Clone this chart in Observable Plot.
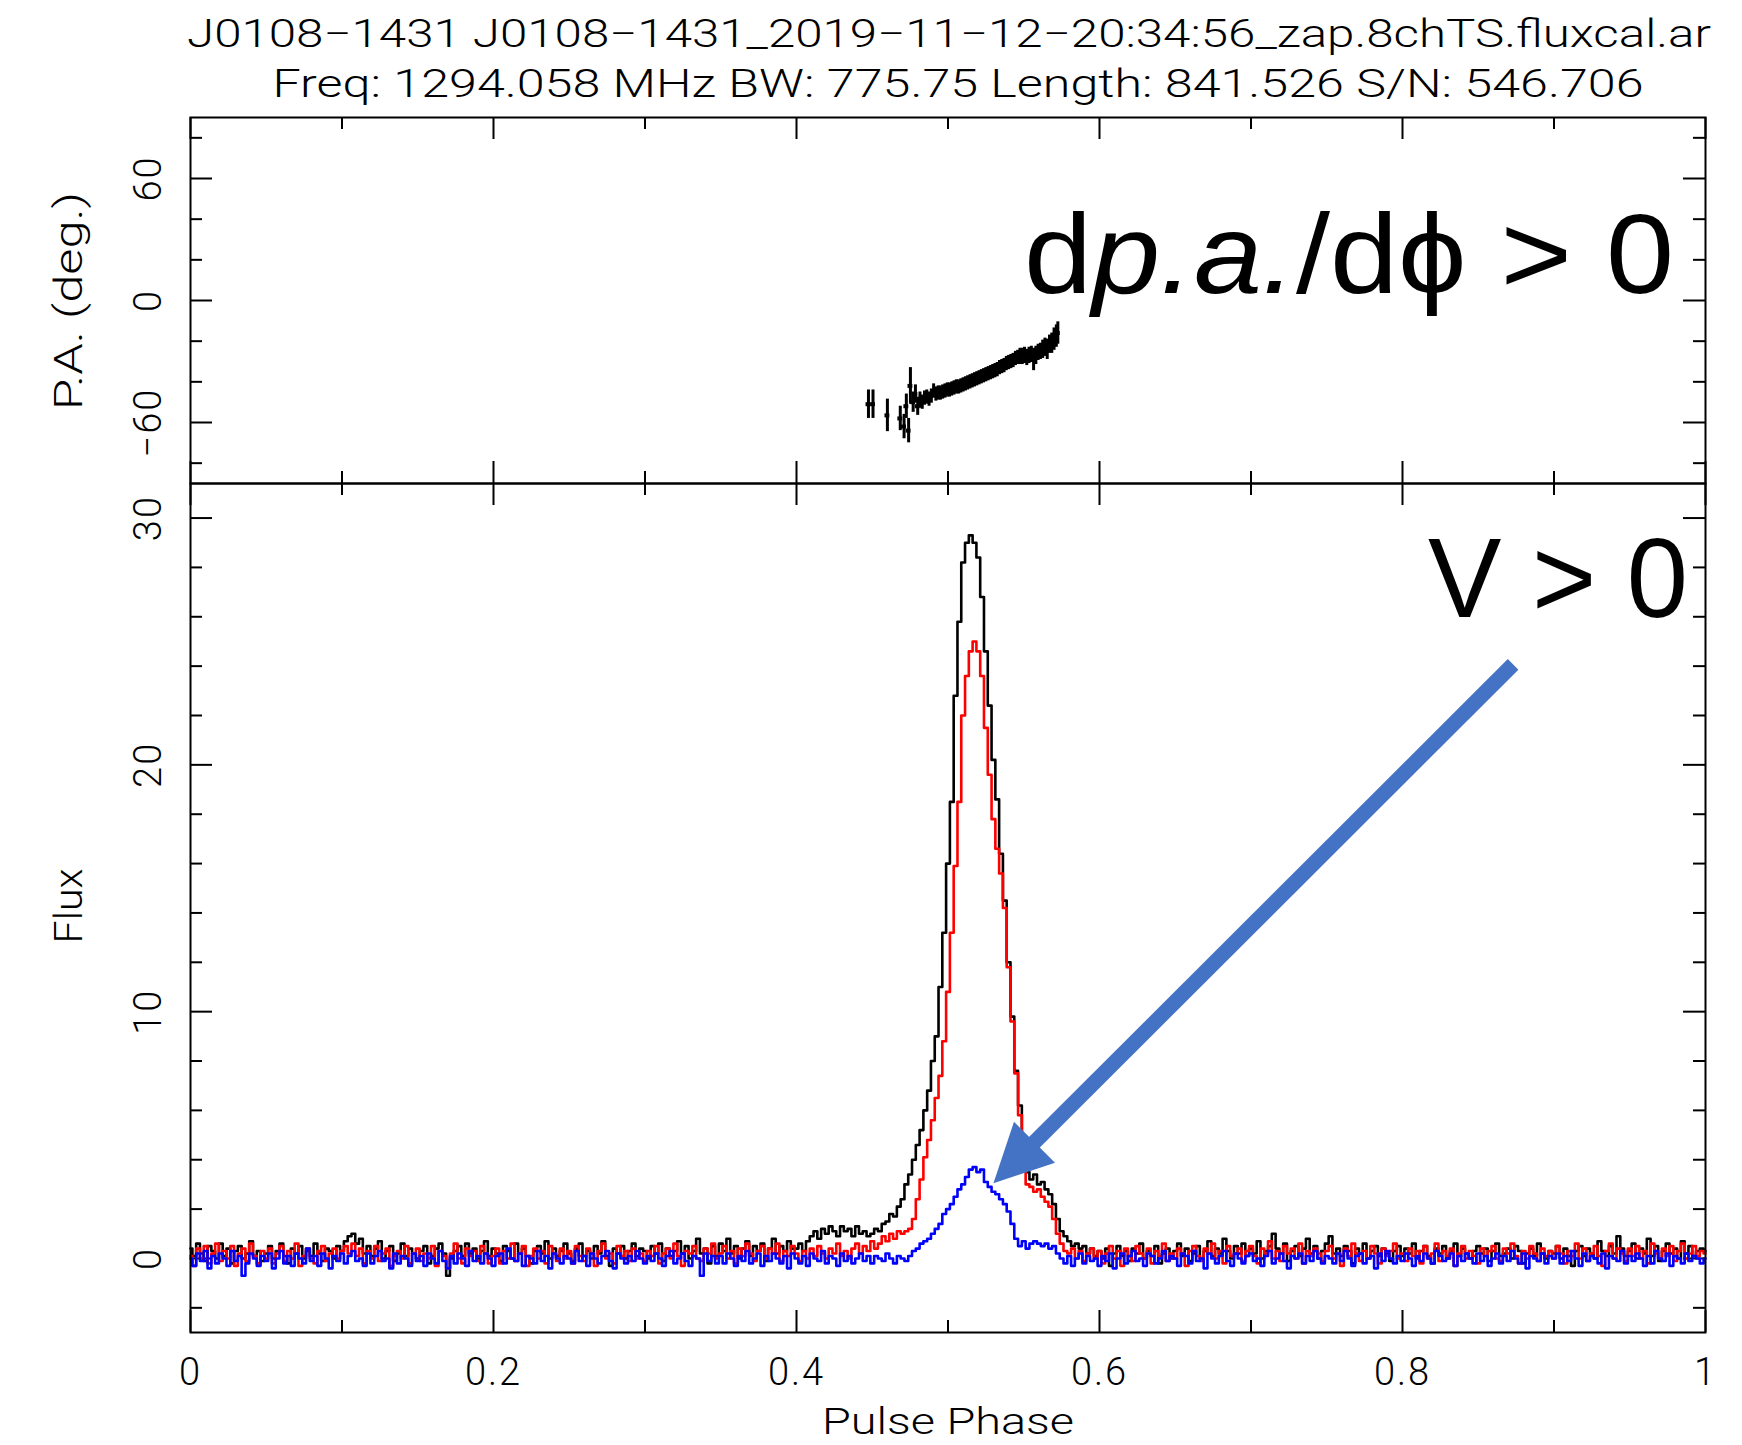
<!DOCTYPE html>
<html><head><meta charset="utf-8">
<script src="https://cdn.jsdelivr.net/npm/d3@7"></script>
<script src="https://cdn.jsdelivr.net/npm/@observablehq/plot@0.6"></script>
<style>
html,body{margin:0;padding:0;background:#fff;width:1742px;height:1445px;overflow:hidden;}
#wrap{position:relative;width:1742px;height:1445px;}
#wrap svg{position:absolute;left:0;}
</style></head><body><div id="wrap"></div>
<script>
// ---------- DATA ----------
const binWidth = 0.0025; // pulse-phase bin width (401 samples, 0..1)

// Total intensity I (black)
const totalI = [
0.4,0.1,0.6,0.2,-0.1,0.5,0.3,0.0,0.6,0.1,0.4,-0.2,0.3,0.5,0.0,0.2,0.7,0.1,0.3,-0.1,
0.2,0.5,0.0,0.3,0.6,0.1,-0.2,0.4,0.2,0.5,0.0,0.3,0.1,0.6,0.2,-0.1,0.4,0.3,0.0,0.5,
0.3,0.7,0.9,1.0,0.6,0.8,0.2,0.5,0.1,0.4,0.7,0.0,0.3,0.5,-0.1,0.2,0.6,0.1,0.4,0.2,
0.0,0.3,0.5,-0.2,0.1,0.4,0.6,0.2,-0.7,0.0,0.3,0.5,0.1,0.6,0.2,0.4,0.0,0.3,0.7,0.1,
0.4,0.2,-0.1,0.5,0.3,0.0,0.6,0.2,0.4,0.1,-0.2,0.3,0.5,0.2,0.7,0.0,0.4,0.1,0.3,0.6,
0.2,-0.1,0.4,0.6,0.1,0.3,0.0,0.5,0.2,0.7,0.1,-0.3,0.4,0.2,0.5,0.0,0.3,0.6,0.1,0.4,
0.3,0.0,0.5,0.2,0.6,-0.1,0.4,0.1,0.3,0.7,0.2,0.5,0.0,0.3,0.8,0.2,0.4,-0.2,0.5,0.1,
0.6,0.3,0.8,0.2,0.5,0.0,0.4,0.7,0.1,0.5,0.3,0.6,-0.1,0.4,0.8,0.2,0.5,0.3,0.7,0.4,
0.4,0.6,0.3,0.7,0.9,1.1,0.8,1.2,1.0,1.3,1.1,0.9,1.3,1.1,1.2,0.9,1.3,1.0,1.1,0.9,
1.0,1.2,1.1,1.4,1.5,1.8,1.7,2.1,2.4,3.0,3.4,4.0,4.6,5.2,6.0,6.8,8.0,9.0,11.0,13.2,
16.0,18.5,22.8,25.8,28.2,29.0,29.3,29.0,28.4,26.8,24.6,22.4,20.2,18.6,16.4,14.5,12.0,9.8,7.6,6.2,
4.8,3.5,3.2,3.4,3.0,3.1,2.8,2.6,2.2,1.6,1.1,0.9,0.7,0.5,0.6,0.4,0.5,0.2,0.4,0.1,
0.3,0.0,0.4,-0.3,0.2,0.5,0.1,0.3,-0.1,0.4,0.2,0.6,0.0,0.3,0.1,0.5,-0.2,0.2,0.4,0.0,
0.3,0.6,0.1,0.4,-0.1,0.2,0.5,0.0,0.3,0.7,0.1,0.4,0.2,0.8,0.3,0.0,0.5,0.2,0.6,0.1,
0.4,0.2,0.7,0.0,0.3,0.5,1.0,0.4,0.2,0.6,-0.1,0.3,0.5,0.1,0.4,0.8,0.2,0.5,0.0,0.3,
0.6,0.9,0.2,0.4,0.1,0.5,0.3,-0.2,0.4,0.2,0.6,0.0,0.3,0.5,0.1,0.4,0.2,-0.1,0.3,0.5,
0.1,0.4,0.2,0.6,0.0,0.3,0.5,0.1,-0.2,0.4,0.2,0.5,0.0,0.3,0.6,0.1,0.4,0.2,0.0,0.3,
0.5,0.2,0.4,-0.1,0.3,0.6,0.1,0.2,0.4,0.0,0.5,0.3,-0.2,0.2,0.4,0.1,0.6,0.2,0.0,0.3,
0.2,0.5,0.0,0.4,0.1,-0.3,0.3,0.5,0.1,0.4,0.2,0.0,0.7,0.3,0.1,0.5,0.2,0.9,0.4,0.1,
0.3,0.6,0.0,0.4,0.2,0.8,0.1,0.5,-0.1,0.3,0.6,0.2,0.4,0.0,0.7,0.2,0.5,0.1,0.3,0.4,
0.3];

// Linear polarisation L (red)
const linearL = [
0.1,-0.3,0.4,0.0,0.5,-0.2,0.2,0.6,-0.1,0.3,0.0,0.5,-0.3,0.2,0.4,-0.1,0.6,0.1,-0.2,0.3,
0.0,0.4,-0.2,0.2,0.5,-0.1,0.3,0.0,0.6,-0.3,0.1,0.4,0.0,-0.2,0.3,0.5,-0.1,0.2,0.4,0.0,
0.3,0.5,0.2,0.6,0.1,0.4,-0.2,0.3,0.0,0.5,-0.1,0.2,0.4,-0.3,0.1,0.3,0.0,0.5,-0.2,0.2,
0.4,-0.1,0.2,0.0,0.5,-0.3,0.3,0.1,-0.4,0.2,0.6,0.0,-0.2,0.4,0.1,0.3,-0.1,0.5,0.2,-0.2,
0.1,0.4,-0.2,0.3,0.0,0.6,-0.1,0.2,0.5,-0.3,0.1,0.4,0.0,0.3,-0.2,0.5,0.2,-0.1,0.4,0.0,
0.3,-0.2,0.5,0.1,-0.1,0.4,0.2,-0.3,0.3,0.6,0.0,0.2,-0.2,0.5,0.1,0.3,-0.1,0.4,0.0,0.2,
-0.1,0.3,0.1,0.5,-0.2,0.2,0.4,0.0,0.6,0.1,-0.3,0.3,0.2,0.5,0.0,-0.1,0.4,0.2,0.6,0.0,
0.2,0.5,0.0,0.3,-0.2,0.4,0.1,0.6,0.2,-0.1,0.3,0.5,0.0,0.4,0.2,0.6,-0.1,0.3,0.1,0.5,
0.2,-0.1,0.3,0.0,0.4,0.1,0.5,0.2,0.0,0.4,0.2,0.6,0.1,0.3,0.0,0.4,0.6,0.2,0.5,0.3,
0.7,0.4,0.6,0.9,0.7,1.0,0.8,1.1,1.0,1.1,1.2,1.6,2.4,3.2,4.1,4.8,5.6,6.5,7.4,8.8,
10.8,13.2,15.9,18.5,22.0,23.6,24.6,25.0,24.6,23.6,21.5,19.6,17.8,16.6,15.6,14.2,11.8,9.6,7.5,5.8,
4.0,3.0,2.9,2.7,2.8,2.5,2.3,2.1,1.6,1.0,0.6,0.3,0.2,0.4,0.0,0.3,-0.1,0.2,0.4,0.0,
0.3,-0.2,0.2,0.5,0.0,0.3,-0.3,0.4,0.1,-0.1,0.5,0.2,0.0,0.4,-0.2,0.3,0.1,0.6,-0.1,0.2,
0.0,0.4,0.2,-0.3,0.3,0.5,0.1,-0.1,0.4,0.2,0.6,0.0,0.3,-0.2,0.5,0.1,0.2,0.4,-0.1,0.3,
0.5,0.1,-0.2,0.4,0.2,0.7,0.0,0.3,-0.1,0.5,0.2,0.4,0.0,0.6,-0.2,0.3,0.1,0.4,0.2,-0.1,
0.3,0.5,0.0,0.2,-0.3,0.4,0.1,0.6,0.2,-0.1,0.3,0.0,0.5,0.2,-0.2,0.4,0.1,0.3,0.6,0.0,
0.2,-0.1,0.4,0.1,0.3,-0.2,0.5,0.0,0.2,0.6,-0.1,0.3,0.1,0.4,-0.3,0.2,0.5,0.0,0.3,0.1,
-0.2,0.4,0.1,0.3,0.5,0.0,-0.1,0.4,0.2,0.6,0.1,-0.2,0.3,0.0,0.5,0.2,-0.1,0.4,0.1,0.3,
0.0,0.5,0.2,-0.2,0.3,0.1,0.6,0.0,0.4,-0.1,0.2,0.5,0.1,-0.3,0.3,0.6,0.0,0.4,0.2,-0.1,
0.4,0.1,0.5,0.0,0.3,-0.2,0.6,0.2,0.0,0.4,0.1,0.5,-0.1,0.3,0.6,0.0,0.2,0.5,0.1,0.3,
0.2];

// Circular polarisation V (blue)
const circularV = [
0.0,-0.3,0.2,-0.1,0.3,-0.4,0.1,-0.2,0.2,0.0,-0.3,0.3,-0.1,0.1,-0.7,-0.2,0.2,0.0,-0.3,0.1,
-0.1,0.2,-0.4,0.0,0.3,-0.2,0.1,-0.3,0.2,0.0,-0.2,0.4,-0.1,0.1,-0.3,0.2,0.0,-0.4,0.1,-0.1,
0.2,-0.2,0.1,0.3,-0.1,0.0,-0.3,0.2,-0.2,0.1,0.3,-0.1,0.0,-0.4,0.2,-0.2,0.1,0.0,-0.3,0.2,
-0.1,0.1,-0.3,0.2,0.0,-0.2,0.3,-0.1,-0.4,0.1,-0.2,0.2,0.0,-0.3,0.3,-0.1,0.1,-0.2,0.2,0.0,
-0.3,0.1,0.2,-0.2,0.4,0.0,-0.1,0.2,-0.3,0.1,0.0,-0.2,0.3,-0.1,0.1,-0.4,0.2,0.0,-0.2,0.1,
0.0,-0.2,0.3,-0.1,0.1,-0.3,0.2,0.0,-0.2,0.1,0.3,-0.1,-0.4,0.2,0.0,-0.2,0.1,-0.1,0.3,0.0,
-0.2,0.1,-0.1,0.2,0.0,-0.3,0.1,0.3,-0.2,0.0,0.2,-0.1,-0.3,0.1,0.0,-0.7,0.2,-0.1,0.1,-0.2,
0.1,-0.2,0.2,0.0,-0.3,0.1,-0.1,0.3,-0.2,0.0,0.2,-0.3,0.1,-0.1,0.2,0.0,-0.2,0.1,-0.4,0.2,
0.0,-0.2,0.1,-0.3,0.2,0.0,-0.1,0.3,-0.2,0.1,0.0,-0.3,0.2,-0.1,0.1,-0.2,0.0,0.2,-0.1,0.1,
-0.2,0.1,0.0,-0.1,0.2,0.0,-0.2,0.1,0.0,-0.1,0.1,0.3,0.4,0.6,0.7,0.8,1.0,1.2,1.4,1.8,
2.0,2.2,2.5,2.8,3.0,3.3,3.6,3.7,3.5,3.6,3.1,2.9,2.7,2.6,2.4,2.2,1.9,1.4,0.8,0.5,
0.7,0.4,0.6,0.7,0.6,0.5,0.6,0.4,0.5,0.2,0.0,-0.2,0.1,-0.3,0.0,0.2,-0.2,0.1,-0.1,0.0,
-0.3,0.1,-0.1,0.2,-0.4,0.0,0.2,-0.2,0.1,0.3,-0.1,0.0,-0.3,0.2,0.1,-0.2,0.0,0.3,-0.1,0.1,
0.0,-0.3,0.2,0.1,-0.2,0.3,-0.1,0.0,-0.4,0.2,0.0,-0.2,0.1,0.3,-0.1,-0.3,0.2,0.0,-0.2,0.1,
0.2,-0.1,0.0,-0.3,0.1,0.3,-0.2,0.0,0.2,-0.1,-0.4,0.1,0.0,0.2,-0.2,0.1,-0.1,0.3,0.0,-0.2,
0.1,0.0,-0.2,0.2,-0.1,0.3,0.0,-0.3,0.1,0.2,-0.2,0.0,0.1,-0.4,0.2,-0.1,0.3,0.0,-0.2,0.1,
-0.1,0.2,0.0,-0.3,0.1,-0.1,0.2,0.0,-0.2,0.3,0.1,-0.1,0.0,0.2,-0.3,0.1,-0.1,0.2,0.0,-0.2,
0.2,-0.1,0.1,-0.3,0.0,0.2,-0.2,0.1,-0.1,0.3,0.0,-0.2,0.2,-0.4,0.1,0.0,-0.1,0.2,-0.2,0.1,
0.0,0.2,-0.2,0.1,-0.1,0.3,0.0,-0.3,0.2,-0.1,0.1,0.0,-0.2,0.2,-0.4,0.1,0.0,-0.1,0.3,-0.2,
0.1,-0.1,0.2,0.0,-0.3,0.1,-0.2,0.3,0.0,-0.1,0.2,-0.3,0.1,0.0,-0.2,0.2,-0.1,0.1,0.0,-0.2,
0.0];

// Position angle points (phase, P.A. in deg, error in deg)
const paPhase = [0.4475,0.4505,0.4600,0.4685,0.4710,0.4725,0.4740,0.4752,0.4770,0.4785,
0.4800,0.4815,0.4830,0.4845,0.4860,0.4875,0.4890,0.4905,0.4920,0.4935,
0.4950,0.4965,0.4980,0.4995,0.5010,0.5025,0.5040,0.5055,0.5070,0.5085,
0.5100,0.5115,0.5130,0.5145,0.5160,0.5175,0.5190,0.5205,0.5220,0.5235,
0.5250,0.5265,0.5280,0.5295,0.5310,0.5325,0.5340,0.5355,0.5370,0.5385,
0.5400,0.5415,0.5430,0.5445,0.5460,0.5475,0.5490,0.5505,0.5520,0.5535,
0.5550,0.5565,0.5580,0.5595,0.5610,0.5625,0.5640,0.5655,0.5670,0.5685,
0.5700,0.5715,0.5725];
const paValue = [-51,-51,-56.5,-58,-62,-52,-64,-42,-50,-46,
-52,-49,-50,-48,-47.5,-48.5,-47,-44.5,-46,-45.5,
-45.5,-45,-44.5,-44,-44,-43.5,-43,-42.5,-42.5,-42,
-41.5,-41,-40.5,-40,-39.5,-39,-38.5,-38,-37.5,-37,
-36.5,-36,-35.5,-35,-34.5,-34,-33,-32.5,-32,-31,
-30.5,-30,-29.5,-28.5,-28,-27.5,-27.5,-27,-28,-27,
-26.5,-29,-27,-25.5,-25,-24,-23,-24,-21.5,-21,
-19,-17.5,-16];
const paError = [7,7,8,6,6,6,6,9,5,4.5,
4.5,4,3.5,3.5,3.5,3.5,3.5,3.5,3.5,3.5,
3.5,3.5,3.5,3.5,3.5,3.5,3.5,3.5,3.5,3.5,
3.5,3.5,3.5,3.5,3.5,3.5,3.5,3.5,3.5,3.5,
3.5,3.5,3.5,3.5,3.5,3.5,3.5,3.5,3.5,3.5,
3.5,3.5,3.5,3.5,3.5,4,4,4,4,4,
4,5.5,4.5,4,4,4.5,4.5,5,4.5,5,
5.5,5.5,5.5];

// Ticks and labels
const xMajorTicks = [0, 0.2, 0.4, 0.6, 0.8, 1];
const xMinorTicks = [0.1, 0.3, 0.5, 0.7, 0.9];
const xTickLabels = ["0", "0.2", "0.4", "0.6", "0.8", "1"];
const paMajorTicks = [-60, 0, 60];
const paMinorTicks = [-80, -40, -20, 20, 40, 80];
const paTickLabels = ["\u221260", "0", "60"];
const fluxMajorTicks = [0, 10, 20, 30];
const fluxMinorTicks = [-2, 2, 4, 6, 8, 12, 14, 16, 18, 22, 24, 26, 28];
const fluxTickLabels = ["0", "10", "20", "30"];

const paDomain = [-90, 90];
const fluxDomain = [-3, 31.4];

// Annotation arrow (data coordinates: phase, flux)
const arrowTail = {phase: 0.873, flux: 24.07};
const arrowTip = {phase: 0.530, flux: 3.05};

const titleLine1 = "J0108\u22121431 J0108\u22121431_2019\u221211\u221212\u221220:34:56_zap.8chTS.fluxcal.ar";
const titleLine2 = "Freq: 1294.058 MHz BW: 775.75 Length: 841.526 S/N: 546.706";

// ---------- LAYOUT ----------
const W = 1742, mL = 190, mR = 37;
const frameW = W - mL - mR;
const topH = 400, topMT = 17, topMB = 17, topOffset = 100;
const botH = 979, botMT = 17, botMB = 113, botOffset = 466;
const topFH = topH - topMT - topMB;
const botFH = botH - botMT - botMB;
const majorLen = 22, minorLen = 12;
const font = {fontFamily: "Roboto, 'DejaVu Sans', sans-serif", fontWeight: "300", letterSpacing: "2px", background: "transparent", overflow: "visible"};

const profile = totalI.map((v, i) => ({phase: i * binWidth, I: v, L: linearL[i], V: circularV[i]}));
const pa = paPhase.map((p, i) => ({phase: p, pa: paValue[i], err: paError[i]}));

function tickMarks(fh, yMajor, yMinor) {
  const s = {stroke: "black", strokeWidth: 2};
  return [
    Plot.ruleX(xMajorTicks, {x: d => d, insetBottom: fh - majorLen, ...s}),
    Plot.ruleX(xMajorTicks, {x: d => d, insetTop: fh - majorLen, ...s}),
    Plot.ruleX(xMinorTicks, {x: d => d, insetBottom: fh - minorLen, ...s}),
    Plot.ruleX(xMinorTicks, {x: d => d, insetTop: fh - minorLen, ...s}),
    Plot.ruleY(yMajor, {y: d => d, insetRight: frameW - majorLen, ...s}),
    Plot.ruleY(yMajor, {y: d => d, insetLeft: frameW - majorLen, ...s}),
    Plot.ruleY(yMinor, {y: d => d, insetRight: frameW - minorLen, ...s}),
    Plot.ruleY(yMinor, {y: d => d, insetLeft: frameW - minorLen, ...s})
  ];
}

// ---------- TOP PANEL: P.A. ----------
const topPlot = Plot.plot({
  width: W, height: topH,
  marginLeft: mL, marginRight: mR, marginTop: topMT, marginBottom: topMB,
  style: font,
  x: {domain: [0, 1], axis: null},
  y: {domain: paDomain, axis: null},
  marks: [
    ...tickMarks(topFH, paMajorTicks, paMinorTicks),
    Plot.ruleX(pa, {x: "phase", y1: d => d.pa - d.err, y2: d => d.pa + d.err, stroke: "black", strokeWidth: 3}),
    Plot.ruleY(pa, {y: "pa", x1: d => d.phase - 0.0016, x2: d => d.phase + 0.0016, stroke: "black", strokeWidth: 4}),
    Plot.text(paMajorTicks, {y: d => d, frameAnchor: "left", dx: -42, rotate: -90,
      text: (d, i) => paTickLabels[i], textAnchor: "middle", lineAnchor: "middle", fontSize: 38, fill: "black"}),
    Plot.frame({stroke: "black", strokeWidth: 2})
  ]
});

// ---------- BOTTOM PANEL: FLUX ----------
const pxPerFlux = botFH / (fluxDomain[1] - fluxDomain[0]);
const dxPx = (arrowTip.phase - arrowTail.phase) * frameW;
const dyPx = -(arrowTip.flux - arrowTail.flux) * pxPerFlux;
const lenPx = Math.hypot(dxPx, dyPx);
const headLength = 58, headHalfWidth = 29, shaftWidth = 15;
const back = (headLength * 0.8) / lenPx;
const shaft = [{
  x1: arrowTail.phase, y1: arrowTail.flux,
  x2: arrowTip.phase + (arrowTail.phase - arrowTip.phase) * back,
  y2: arrowTip.flux + (arrowTail.flux - arrowTip.flux) * back
}];
const headAngle = Math.atan2(dyPx, dxPx) * 180 / Math.PI;
const arrowHead = {draw(ctx) { ctx.moveTo(0, 0); ctx.lineTo(-headLength, -headHalfWidth); ctx.lineTo(-headLength, headHalfWidth); ctx.closePath(); }};
const arrowColor = "#4472c4";

const botPlot = Plot.plot({
  width: W, height: botH,
  marginLeft: mL, marginRight: mR, marginTop: botMT, marginBottom: botMB,
  style: font,
  x: {domain: [0, 1], axis: null},
  y: {domain: fluxDomain, axis: null},
  marks: [
    ...tickMarks(botFH, fluxMajorTicks, fluxMinorTicks),
    Plot.line(profile, {x: "phase", y: "I", curve: "step", stroke: "black", strokeWidth: 2.6}),
    Plot.line(profile, {x: "phase", y: "L", curve: "step", stroke: "#ff0000", strokeWidth: 2.6}),
    Plot.line(profile, {x: "phase", y: "V", curve: "step", stroke: "#0000ff", strokeWidth: 2.6}),
    Plot.link(shaft, {x1: "x1", y1: "y1", x2: "x2", y2: "y2", stroke: arrowColor, strokeWidth: shaftWidth, strokeLinecap: "butt"}),
    Plot.dot([arrowTip], {x: "phase", y: "flux", symbol: arrowHead, r: 10, fill: arrowColor, stroke: "none", rotate: headAngle}),
    Plot.text(fluxMajorTicks, {y: d => d, frameAnchor: "left", dx: -42, rotate: -90,
      text: (d, i) => fluxTickLabels[i], textAnchor: "middle", lineAnchor: "middle", fontSize: 38, fill: "black"}),
    Plot.text(xMajorTicks, {x: d => d, frameAnchor: "bottom", dy: 40,
      text: (d, i) => xTickLabels[i], textAnchor: "middle", lineAnchor: "middle", fontSize: 38, fill: "black"}),
    Plot.frame({stroke: "black", strokeWidth: 2})
  ]
});

const wrap = document.getElementById("wrap");
botPlot.style.top = botOffset + "px";
topPlot.style.top = topOffset + "px";
wrap.appendChild(botPlot);
wrap.appendChild(topPlot);

// ---------- OVERLAY TEXT ----------
const ov = d3.select(wrap).append("svg")
  .attr("width", W).attr("height", 1445)
  .style("position", "absolute").style("left", "0px").style("top", "0px")
  .style("pointer-events", "none");
const g = ov.append("g").attr("font-family", "Roboto, 'DejaVu Sans', sans-serif")
  .attr("font-weight", 300).attr("font-size", 38).attr("fill", "black");
g.append("text").attr("x", 949).attr("y", 47).attr("text-anchor", "middle")
  .attr("textLength", 1524).attr("lengthAdjust", "spacingAndGlyphs").text(titleLine1);
g.append("text").attr("x", 958).attr("y", 97).attr("text-anchor", "middle")
  .attr("textLength", 1371).attr("lengthAdjust", "spacingAndGlyphs").text(titleLine2);
g.append("text").attr("transform", "translate(82,301) rotate(-90)").attr("text-anchor", "middle")
  .attr("textLength", 218).attr("lengthAdjust", "spacingAndGlyphs").text("P.A. (deg.)");
g.append("text").attr("transform", "translate(82,906) rotate(-90)").attr("text-anchor", "middle")
  .attr("textLength", 75).attr("lengthAdjust", "spacingAndGlyphs").text("Flux");
g.append("text").attr("x", 948).attr("y", 1434).attr("font-size", 37).attr("text-anchor", "middle")
  .attr("textLength", 252).attr("lengthAdjust", "spacingAndGlyphs").text("Pulse Phase");

const ann = ov.append("g").attr("font-family", "'Liberation Sans', Arial, Helvetica, sans-serif")
  .attr("font-size", 114).attr("fill", "black");
const a1 = ann.append("text").attr("x", 1024).attr("y", 293).attr("textLength", 650).attr("lengthAdjust", "spacingAndGlyphs");
a1.append("tspan").text("d");
a1.append("tspan").attr("font-style", "italic").text("p.a.");
a1.append("tspan").text("/d\u03D5 > 0");
ann.append("text").attr("x", 1428).attr("y", 617).attr("textLength", 260).attr("lengthAdjust", "spacingAndGlyphs").text("V > 0");
</script></body></html>
